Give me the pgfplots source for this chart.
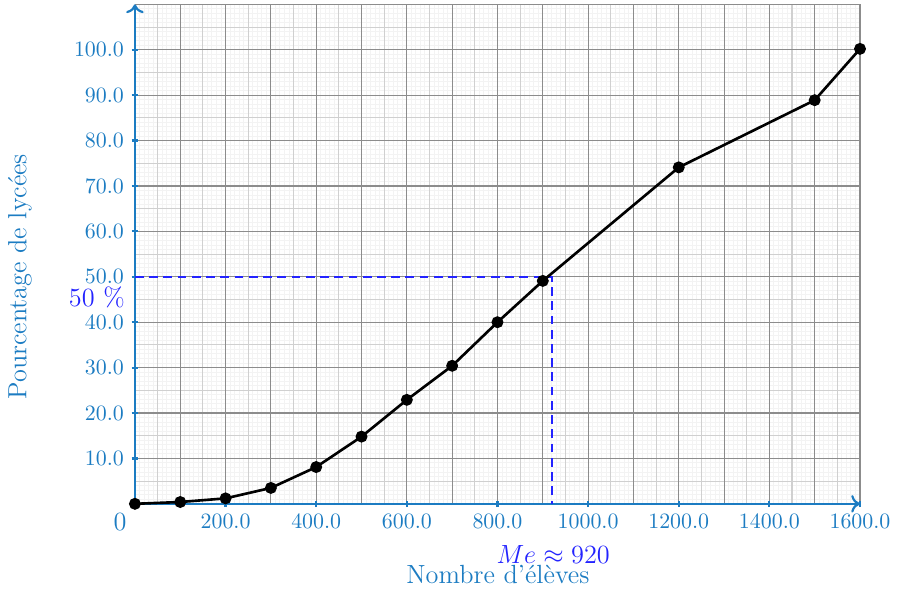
\documentclass[border=0pt]{standalone}
\usepackage{pgfplots}
\pgfplotsset{compat=1.18}
\usetikzlibrary{arrows.meta}
\definecolor{axisblue}{RGB}{28,124,194}
\definecolor{medblue}{RGB}{35,35,255}
\definecolor{gmajor}{RGB}{140,140,140}
\definecolor{gmid}{RGB}{208,208,208}
\definecolor{gfine}{RGB}{243,243,243}
\begin{document}
\begin{tikzpicture}
\begin{axis}[
	set layers,
	at={(0,0)}, anchor=south west,
	scale only axis,
	width=331pt, height=228pt,
	xmin=0, xmax=1600, ymin=0, ymax=110,
	axis lines=left,
	axis line style={draw=axisblue, line width=1pt},
	every outer x axis line/.append style={-{To[length=4pt,width=8pt]}},
	every outer y axis line/.append style={-{To[length=4pt,width=8pt]}},
	xtick={200,400,...,1600},
	ytick={10,20,...,100},
	tick align=center,
	major tick length=3pt,
	tick style={draw=axisblue, line width=1pt},
	tick label style={text=axisblue},
	/pgf/number format/.cd, fixed, fixed zerofill, precision=1, 1000 sep={},
	/pgfplots/.cd,
	clip=false]

% three levels of grid: every 10 / 1, every 50 / 5, every 100 / 10
\begin{pgfonlayer}{axis grid}
\pgfplotsinvokeforeach{10,20,...,1600}{\draw[gfine, line width=0.45pt] (axis cs:#1,0) -- (axis cs:#1,110);}
\pgfplotsinvokeforeach{1,2,...,110}{\draw[gfine, line width=0.45pt] (axis cs:0,#1) -- (axis cs:1600,#1);}
\pgfplotsinvokeforeach{50,150,...,1550}{\draw[gmid, line width=0.5pt] (axis cs:#1,0) -- (axis cs:#1,110);}
\pgfplotsinvokeforeach{5,15,...,105}{\draw[gmid, line width=0.5pt] (axis cs:0,#1) -- (axis cs:1600,#1);}
\pgfplotsinvokeforeach{100,200,...,1600}{\draw[gmajor, line width=0.5pt] (axis cs:#1,0) -- (axis cs:#1,110);}
\pgfplotsinvokeforeach{10,20,...,110}{\draw[gmajor, line width=0.5pt] (axis cs:0,#1) -- (axis cs:1600,#1);}
\end{pgfonlayer}

% median
\addplot[medblue, line width=0.9pt, dash pattern=on 4pt off 2.5pt] coordinates {
(0,50) (920,50) (920,0)
};

\addplot[black, line width=1.2pt, mark=*, mark size=2.1pt] coordinates {
(0 , 0.0)
(100 , 0.4)
(200 , 1.2)
(300 , 3.5)
(400 , 8.1)
(500 , 14.8)
(600 , 22.9)
(700 , 30.4)
(800 , 40.0)
(900 , 49.1)
(1200 , 74.1)
(1500 , 88.9)
(1600 , 100.2)
};

\node[text=axisblue, font=\large] at (axis cs:-33,-4) {0};
\node[text=medblue, font=\large] at (axis cs:-84,45.4) {50 \%};
\node[text=medblue, font=\large] at (axis cs:923,-11.2) {$Me \approx 920$};
\node[text=axisblue, font=\large] at (axis cs:801,-15.6) {Nombre d'élèves};
\node[text=axisblue, font=\large, rotate=90] at (axis cs:-254,50) {Pourcentage de lycées};
\end{axis}
\pgfresetboundingbox
\path (-61.6pt,-39.7pt) rectangle (352pt,230pt);
\end{tikzpicture}
\end{document}
